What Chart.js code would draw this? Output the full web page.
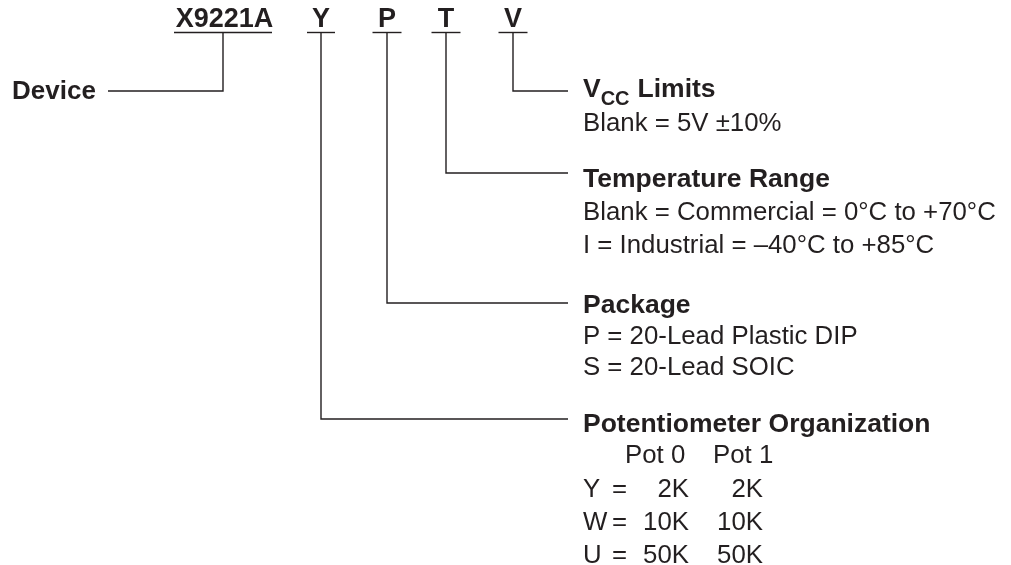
<!DOCTYPE html>
<html>
<head>
<meta charset="utf-8">
<script src="https://cdn.jsdelivr.net/npm/chart.js@4.4.1/dist/chart.umd.min.js"></script>
<style>
  html, body { margin: 0; padding: 0; background: #ffffff; }
  #orderChart { display: block; }
</style>
</head>
<body>
<canvas id="orderChart" width="1011" height="565"></canvas>
<script>
// Ordering code fields (left to right)
const partCodes = ['X9221A', 'Y', 'P', 'T', 'V'];
const fieldTitles = ['Device', 'Potentiometer Organization', 'Package', 'Temperature Range', 'Limits'];
const vccOptions = ['Blank = 5V ±10%'];
const tempOptions = ['Blank = Commercial = 0°C to +70°C', 'I = Industrial = –40°C to +85°C'];
const packageOptions = ['P = 20-Lead Plastic DIP', 'S = 20-Lead SOIC'];
const potHeaders = ['Pot 0', 'Pot 1'];
const potCodes = ['Y', 'W', 'U'];
const pot0Values = ['2K', '10K', '50K'];
const pot1Values = ['2K', '10K', '50K'];

// Layout in scale units (the axes run 0..1011 by 0..565)
const codeX = [223, 321, 387, 446, 513];
const codeHalfWidth = [49, 14, 14.5, 14.5, 14.5];
const branchY = [91, 419, 303, 173, 91];
const underlineY = 32.5;
const lineEndX = 568;
const deviceLineX = 108;
const textX = 583;

const ink = '#231f20';
const fontFamily = '"Liberation Sans", Arial, Helvetica, sans-serif';
const bodySize = 25.8;
const headSize = 26.5;

// connector lines built from the layout
const datasets = [];
partCodes.forEach((code, i) => {
    datasets.push({
        data: [{ x: codeX[i] - codeHalfWidth[i], y: underlineY }, { x: codeX[i] + codeHalfWidth[i], y: underlineY }]
    });
    const endX = i === 0 ? deviceLineX : lineEndX;
    datasets.push({
        data: [{ x: codeX[i], y: underlineY }, { x: codeX[i], y: branchY[i] }, { x: endX, y: branchY[i] }]
    });
});
datasets.forEach(ds => {
    ds.showLine = true;
    ds.borderColor = ink;
    ds.borderWidth = 1.4;
    ds.pointRadius = 0;
    ds.fill = false;
});

const labelPlugin = {
    id: 'orderLabels',
    afterDraw(chart) {
        const ctx = chart.ctx;
        const sx = v => chart.scales.x.getPixelForValue(v);
        const sy = v => chart.scales.y.getPixelForValue(v);
        const text = (str, x, y, size, bold, align) => {
            ctx.font = (bold ? 'bold ' : '') + size + 'px ' + fontFamily;
            ctx.textAlign = align || 'left';
            ctx.fillText(str, sx(x), sy(y));
            return ctx.measureText(str).width;
        };
        ctx.save();
        ctx.fillStyle = ink;
        ctx.textBaseline = 'alphabetic';

        // part number letters
        text(partCodes[0], 224.5, 27, 27, true, 'center');
        for (let i = 1; i < partCodes.length; i++) {
            text(partCodes[i], codeX[i], 27, 27, true, 'center');
        }

        // Device
        text(fieldTitles[0], 12, 99, 26, true);

        // VCC limits (with subscript)
        let w = text('V', textX, 97, headSize, true);
        let w2 = text('CC', textX + w, 105, 20, true);
        text(fieldTitles[4], textX + w + w2 + 8, 97, headSize, true);
        vccOptions.forEach((s, i) => text(s, textX, 131 + i * 32.5, bodySize));

        // Temperature
        text(fieldTitles[3], textX, 187, headSize, true);
        tempOptions.forEach((s, i) => text(s, textX, 220 + i * 32.5, bodySize));

        // Package
        text(fieldTitles[2], textX, 313, headSize, true);
        packageOptions.forEach((s, i) => text(s, textX, 344 + i * 31, bodySize));

        // Potentiometer organization table
        text(fieldTitles[1], textX, 432, headSize, true);
        text(potHeaders[0], 625, 463, bodySize);
        text(potHeaders[1], 713, 463, bodySize);
        potCodes.forEach((c, i) => {
            const y = 497 + i * 33;
            text(c, textX, y, bodySize);
            text('=', 612, y, bodySize);
            text(pot0Values[i], 689, y, bodySize, false, 'right');
            text(pot1Values[i], 763, y, bodySize, false, 'right');
        });
        ctx.restore();
    }
};

new Chart(document.getElementById('orderChart').getContext('2d'), {
    type: 'scatter',
    data: { datasets: datasets },
    options: {
        responsive: false,
        animation: false,
        layout: { padding: 0 },
        plugins: {
            legend: { display: false },
            tooltip: { enabled: false }
        },
        scales: {
            x: { type: 'linear', min: 0, max: 1011, display: false },
            y: { type: 'linear', min: 0, max: 565, reverse: true, display: false }
        }
    },
    plugins: [labelPlugin]
});
</script>
</body>
</html>
